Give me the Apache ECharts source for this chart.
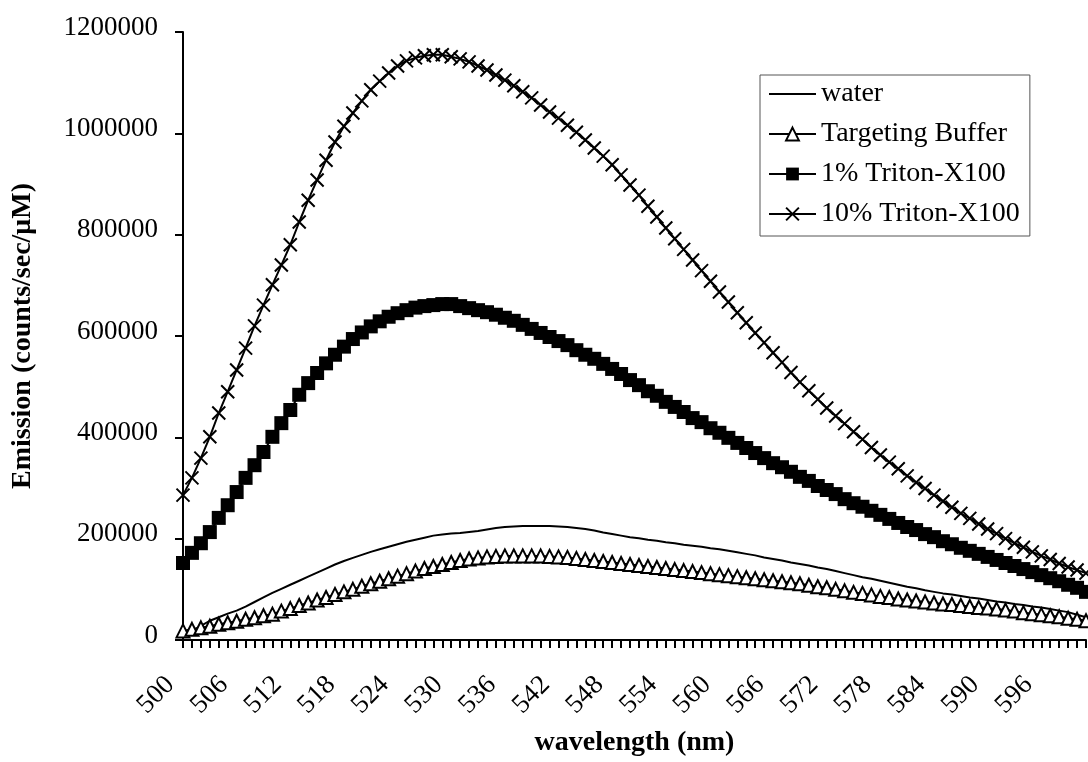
<!DOCTYPE html>
<html>
<head>
<meta charset="utf-8">
<script src="https://cdn.jsdelivr.net/npm/echarts@6/dist/echarts.min.js"></script>
<style>html,body{margin:0;padding:0;background:#fff;}#c{width:1088px;height:762px;}</style>
</head>
<body>
<div id="c"></div>
<script>
// wavelength categories (nm)
const wavelengths = [];
for (let w = 500; w <= 601; w++) wavelengths.push(String(w));

const seriesNames = ['water', 'Targeting Buffer', '1% Triton-X100', '10% Triton-X100'];

const water = [
  6000,17000,28000,38000,45000,52000,58000,66000,75000,84000,
  93000,101000,109000,117000,125000,133000,141000,149000,156000,162000,
  168000,174000,179000,184000,189000,194000,198000,202000,206000,208000,
  210000,211000,213000,215000,218000,221000,223000,224000,225000,225000,
  225000,225000,224000,223000,221000,219000,216000,212000,209000,206000,
  203000,201000,198000,196000,193000,191000,188000,186000,184000,181000,
  179000,176000,173000,170000,167000,163000,160000,157000,153000,150000,
  147000,143000,140000,136000,132000,128000,124000,121000,117000,113000,
  109000,105000,102000,98000,95000,92000,90000,87000,84000,82000,
  79000,76000,74000,71000,69000,66000,64000,61000,58000,55000,
  50000,45000
];

const targetingBuffer = [
  18000,21000,24000,27000,31000,34000,37000,41000,44000,48000,
  51000,57000,62000,68000,73000,79000,84000,90000,95000,100000,
  106000,111000,116000,121000,126000,131000,136000,141000,145000,149000,
  153000,157000,160000,162000,164000,165000,166000,166000,166000,166000,
  166000,165000,164000,163000,161000,159000,157000,155000,153000,151000,
  149000,147000,145000,143000,141000,139000,137000,135000,133000,131000,
  129000,127000,125000,123000,121000,119000,117000,115000,113000,111000,
  108000,105000,103000,100000,97000,94000,92000,89000,86000,84000,
  81000,79000,77000,75000,73000,71000,70000,68000,66000,64000,
  63000,61000,59000,57000,54000,52000,50000,48000,46000,43000,
  41000,38000
];

const triton1 = [
  152000,172000,191000,213000,241000,266000,292000,320000,345000,371000,
  401000,428000,454000,484000,507000,527000,546000,563000,579000,594000,
  607000,619000,629000,638000,645000,651000,656000,659000,661000,663000,
  663000,659000,655000,651000,647000,642000,636000,630000,622000,614000,
  606000,598000,590000,582000,572000,563000,555000,545000,535000,525000,
  513000,503000,491000,482000,470000,460000,450000,438000,430000,418000,
  409000,399000,389000,379000,369000,359000,349000,341000,332000,322000,
  314000,304000,296000,288000,278000,270000,263000,255000,247000,239000,
  231000,223000,217000,209000,203000,195000,189000,182000,176000,170000,
  164000,158000,152000,146000,140000,134000,128000,122000,116000,109000,
  103000,95000
];

const triton10 = [
  286000,320000,359000,401000,448000,490000,533000,576000,620000,661000,
  701000,740000,780000,825000,868000,908000,947000,983000,1014000,1040000,
  1064000,1086000,1103000,1119000,1133000,1143000,1149000,1153000,1155000,1155000,
  1151000,1147000,1141000,1133000,1125000,1115000,1105000,1094000,1082000,1070000,
  1056000,1042000,1030000,1016000,1002000,987000,971000,955000,938000,918000,
  898000,878000,856000,835000,813000,792000,771000,750000,729000,708000,
  687000,667000,646000,626000,606000,587000,567000,548000,528000,509000,
  492000,475000,458000,442000,427000,411000,396000,380000,365000,351000,
  338000,324000,311000,299000,286000,274000,262000,250000,240000,229000,
  219000,210000,200000,191000,183000,174000,166000,159000,151000,144000,
  138000,132000
];

const FONT = 'Liberation Serif, Times New Roman, serif';
const chart = echarts.init(document.getElementById('c'), null, {renderer: 'canvas'});
const option = {
  animation: false,
  backgroundColor: '#ffffff',
  textStyle: {fontFamily: FONT, color: '#000'},
  grid: {left: 183, right: 2, top: 32, bottom: 121},
  legend: {
    orient: 'vertical',
    left: 760, top: 75,
    backgroundColor: '#fff',
    borderColor: '#555', borderWidth: 1,
    padding: [5, 10, 8, 8],
    itemGap: 12,
    itemWidth: 47, itemHeight: 16,
    textStyle: {fontFamily: FONT, fontSize: 28, color: '#000'},
    data: [
      {name: seriesNames[0], itemStyle: {opacity: 0}},
      seriesNames[1], seriesNames[2], seriesNames[3]
    ]
  },
  xAxis: {
    type: 'category',
    data: wavelengths,
    boundaryGap: false,
    axisLine: {lineStyle: {color: '#000', width: 2}},
    axisTick: {show: true, interval: 0, length: 8, lineStyle: {color: '#000', width: 2}},
    axisLabel: {interval: 5, rotate: 45, fontSize: 27, color: '#000', fontFamily: FONT, margin: 28, padding: [0, 18, 0, 0]},
    splitLine: {show: false},
    name: 'wavelength (nm)',
    nameLocation: 'middle',
    nameGap: 89,
    nameTextStyle: {fontFamily: FONT, fontSize: 28, fontWeight: 'bold', color: '#000'}
  },
  yAxis: {
    type: 'value',
    min: 0, max: 1200000, interval: 200000,
    axisLine: {show: true, lineStyle: {color: '#000', width: 2}},
    axisTick: {show: true, length: 8, lineStyle: {color: '#000', width: 2}},
    axisLabel: {fontSize: 27, color: '#000', fontFamily: FONT, margin: 25,
      verticalAlign: 'bottom', lineHeight: 9,
      formatter: function (v) { return String(v); }},
    splitLine: {show: false},
    name: 'Emission (counts/sec/\u03bcM)',
    nameLocation: 'middle',
    nameGap: 146,
    nameTextStyle: {fontFamily: FONT, fontSize: 28, fontWeight: 'bold', color: '#000'}
  },
  series: [
    {
      name: seriesNames[0], type: 'line', data: water,
      symbol: 'circle', showSymbol: false,
      lineStyle: {color: '#000', width: 2},
      itemStyle: {color: 'rgba(0,0,0,0)'}
    },
    {
      name: seriesNames[1], type: 'line', data: targetingBuffer,
      symbol: 'triangle', symbolSize: 13, showAllSymbol: true,
      lineStyle: {color: '#000', width: 2},
      itemStyle: {color: '#fff', borderColor: '#000', borderWidth: 2}
    },
    {
      name: seriesNames[2], type: 'line', data: triton1,
      symbol: 'rect', symbolSize: 14, showAllSymbol: true,
      lineStyle: {color: '#000', width: 2},
      itemStyle: {color: '#000', borderColor: '#000', borderWidth: 0}
    },
    {
      name: seriesNames[3], type: 'line', data: triton10,
      symbol: 'path://M0,0L10,10M10,0L0,10', symbolSize: 13, showAllSymbol: true,
      lineStyle: {color: '#000', width: 2},
      itemStyle: {color: '#000', borderColor: '#000', borderWidth: 2}
    }
  ]
};
chart.setOption(option);
</script>
</body>
</html>
